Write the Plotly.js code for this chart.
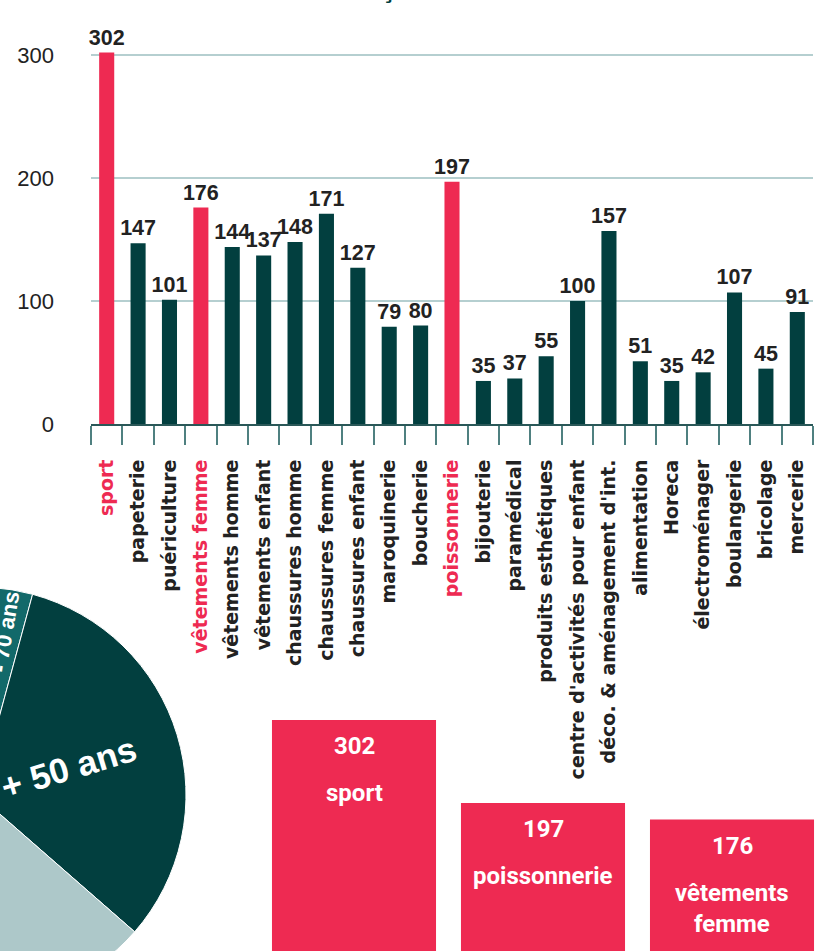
<!DOCTYPE html>
<html><head><meta charset="utf-8">
<script src="https://cdn.plot.ly/plotly-3.0.1.min.js"></script>
<style>
html,body{margin:0;padding:0;width:821px;height:951px;overflow:hidden;background:#fff}
#chart{position:absolute;left:-240px;top:-40px;width:1061px;height:1061px}
</style>
</head><body><div id="chart"></div>
<script>
// ---- data ----
const categories = ["sport","papeterie","puériculture","vêtements femme","vêtements homme","vêtements enfant","chaussures homme","chaussures femme","chaussures enfant","maroquinerie","boucherie","poissonnerie","bijouterie","paramédical","produits esthétiques","centre d'activités pour enfant","déco. & aménagement d'int.","alimentation","Horeca","électroménager","boulangerie","bricolage","mercerie"];
const values = [302,147,101,176,144,137,148,171,127,79,80,197,35,37,55,100,157,51,35,42,107,45,91];
const yTicks = [0,100,200,300];
const ageLabels = ["- 70 ans","+ 50 ans","30 - 50 ans","- 30 ans"];
const ageShares = [3.2,32.2,30.6,34.0];
const titleText = "Français : les commerces souhaités";

// ---- styles / layout helpers ----
const RED = "#ee2a52", DARK = "#023f3f", TXT = "#222222";
const L = 240, T = 40, W = 1061, H = 1061;
const px = x => (x + L) / W;
const py = y => 1 - (y + T) / H;
const PIE_CX = -22, PIE_CY = 795, PIE_R = 208, PIE_ROT = 3.7;

// top 3 highlighted
const order = values.map((v,i)=>i).sort((a,b)=>values[b]-values[a]);
const top3 = order.slice(0,3);
const barColors = values.map((v,i)=> top3.includes(i) ? RED : DARK);
const tickText = categories.map((c,i)=> top3.includes(i) ? '<span style="color:'+RED+'">'+c+'</span>' : c);

const podX = top3.map(i=>categories[i]);
const podY = top3.map(i=>values[i]);

// pie: label of the big slice drawn radially as annotation
const BIG = 1;
const totalShare = ageShares.reduce((a,b)=>a+b,0);
let startAng = PIE_ROT;
for (let i=0;i<BIG;i++) startAng += ageShares[i]/totalShare*360;
const midAng = startAng + ageShares[BIG]/totalShare*360/2;
const rad = midAng*Math.PI/180;
const labR = 95;
const bigX = PIE_CX + labR*Math.sin(rad), bigY = PIE_CY - labR*Math.cos(rad);

const traces = [
  {
    type:'bar', x:categories, y:values, xaxis:'x', yaxis:'y',
    marker:{color:barColors}, width:0.48,
    text:values.map(String), textposition:'outside', cliponaxis:false, constraintext:'none',
    textfont:{family:'Liberation Sans, Arial, sans-serif', size:21.5, color:TXT, weight:'bold'},
    hoverinfo:'skip'
  },
  {
    type:'bar', x:podX, y:podY, xaxis:'x2', yaxis:'y2',
    marker:{color:RED}, width:0.868, hoverinfo:'skip'
  },
  {
    type:'pie', labels:ageLabels, values:ageShares, sort:false, direction:'clockwise', rotation:PIE_ROT,
    domain:{x:[px(PIE_CX-PIE_R), px(PIE_CX+PIE_R)], y:[py(PIE_CY+PIE_R), py(PIE_CY-PIE_R)]},
    marker:{colors:['#12696a', DARK, '#adc8c9', '#5e9c9b'], line:{color:'#ffffff', width:1}},
    text:ageLabels.map((l,i)=> i===BIG ? '' : l), textinfo:'text', textposition:'inside', insidetextorientation:'radial',
    insidetextfont:{family:'Liberation Sans, Arial, sans-serif', size:30, color:'#ffffff', weight:'bold'},
    hoverinfo:'skip', showlegend:false
  }
];

const podAnn = [];
const podFont = {family:'Roboto, sans-serif', size:24, color:'#ffffff', weight:'bold'};
top3.forEach(i=>{
  podAnn.push({xref:'x2', yref:'y2', x:categories[i], y:values[i], yanchor:'top', yshift:-10,
    text:String(values[i]), showarrow:false, font:podFont});
  podAnn.push({xref:'x2', yref:'y2', x:categories[i], y:values[i], yanchor:'top', yshift:-57,
    text:categories[i].replace(/ /g,'<br>'), showarrow:false, font:podFont});
});

const layout = {
  width:W, height:H, autosize:false,
  margin:{l:0,r:0,t:0,b:0,pad:0},
  paper_bgcolor:'#ffffff', plot_bgcolor:'rgba(0,0,0,0)',
  showlegend:false,
  xaxis:{
    domain:[px(91), px(813)], type:'category',
    tickmode:'array', tickvals:categories, ticktext:tickText, tickangle:-90,
    tickson:'boundaries', ticks:'outside', ticklen:19, tickwidth:2, tickcolor:'#4f8080',
    ticklabelstandoff:26,
    showline:true, linecolor:'#2a5858', linewidth:2, showgrid:false, zeroline:false,
    tickfont:{family:'DejaVu Sans, sans-serif', size:19, color:TXT, weight:'bold'},
    fixedrange:true
  },
  yaxis:{
    domain:[py(424), py(424-310*1.23)], range:[0,310],
    tickmode:'array', tickvals:yTicks, ticks:'', ticklabelstandoff:36,
    showgrid:true, gridcolor:'#b5cfd0', gridwidth:2, zeroline:false, showline:false,
    tickfont:{family:'Liberation Sans, Arial, sans-serif', size:22, color:TXT},
    fixedrange:true
  },
  xaxis2:{domain:[px(259.5), px(821)], range:[-0.5, -0.5+(821-259.5)/189], type:'category', visible:false, anchor:'y2'},
  yaxis2:{domain:[py(958.7), py(958.7-320*0.7904)], range:[0,320], visible:false, anchor:'x2'},
  annotations:[
    {xref:'paper', yref:'paper', x:px(323), y:py(6), xanchor:'left', yanchor:'bottom',
     text:titleText, showarrow:false,
     font:{family:'Liberation Sans, Arial, sans-serif', size:26, color:DARK, weight:'bold'}},
    {xref:'paper', yref:'paper', x:px(bigX), y:py(bigY), xanchor:'center', yanchor:'middle',
     text:ageLabels[BIG], textangle:midAng-90, showarrow:false,
     font:{family:'Liberation Sans, Arial, sans-serif', size:35, color:'#ffffff', weight:'bold'}}
  ].concat(podAnn)
};

Plotly.newPlot('chart', traces, layout, {staticPlot:true, displayModeBar:false});
</script>
</body></html>
